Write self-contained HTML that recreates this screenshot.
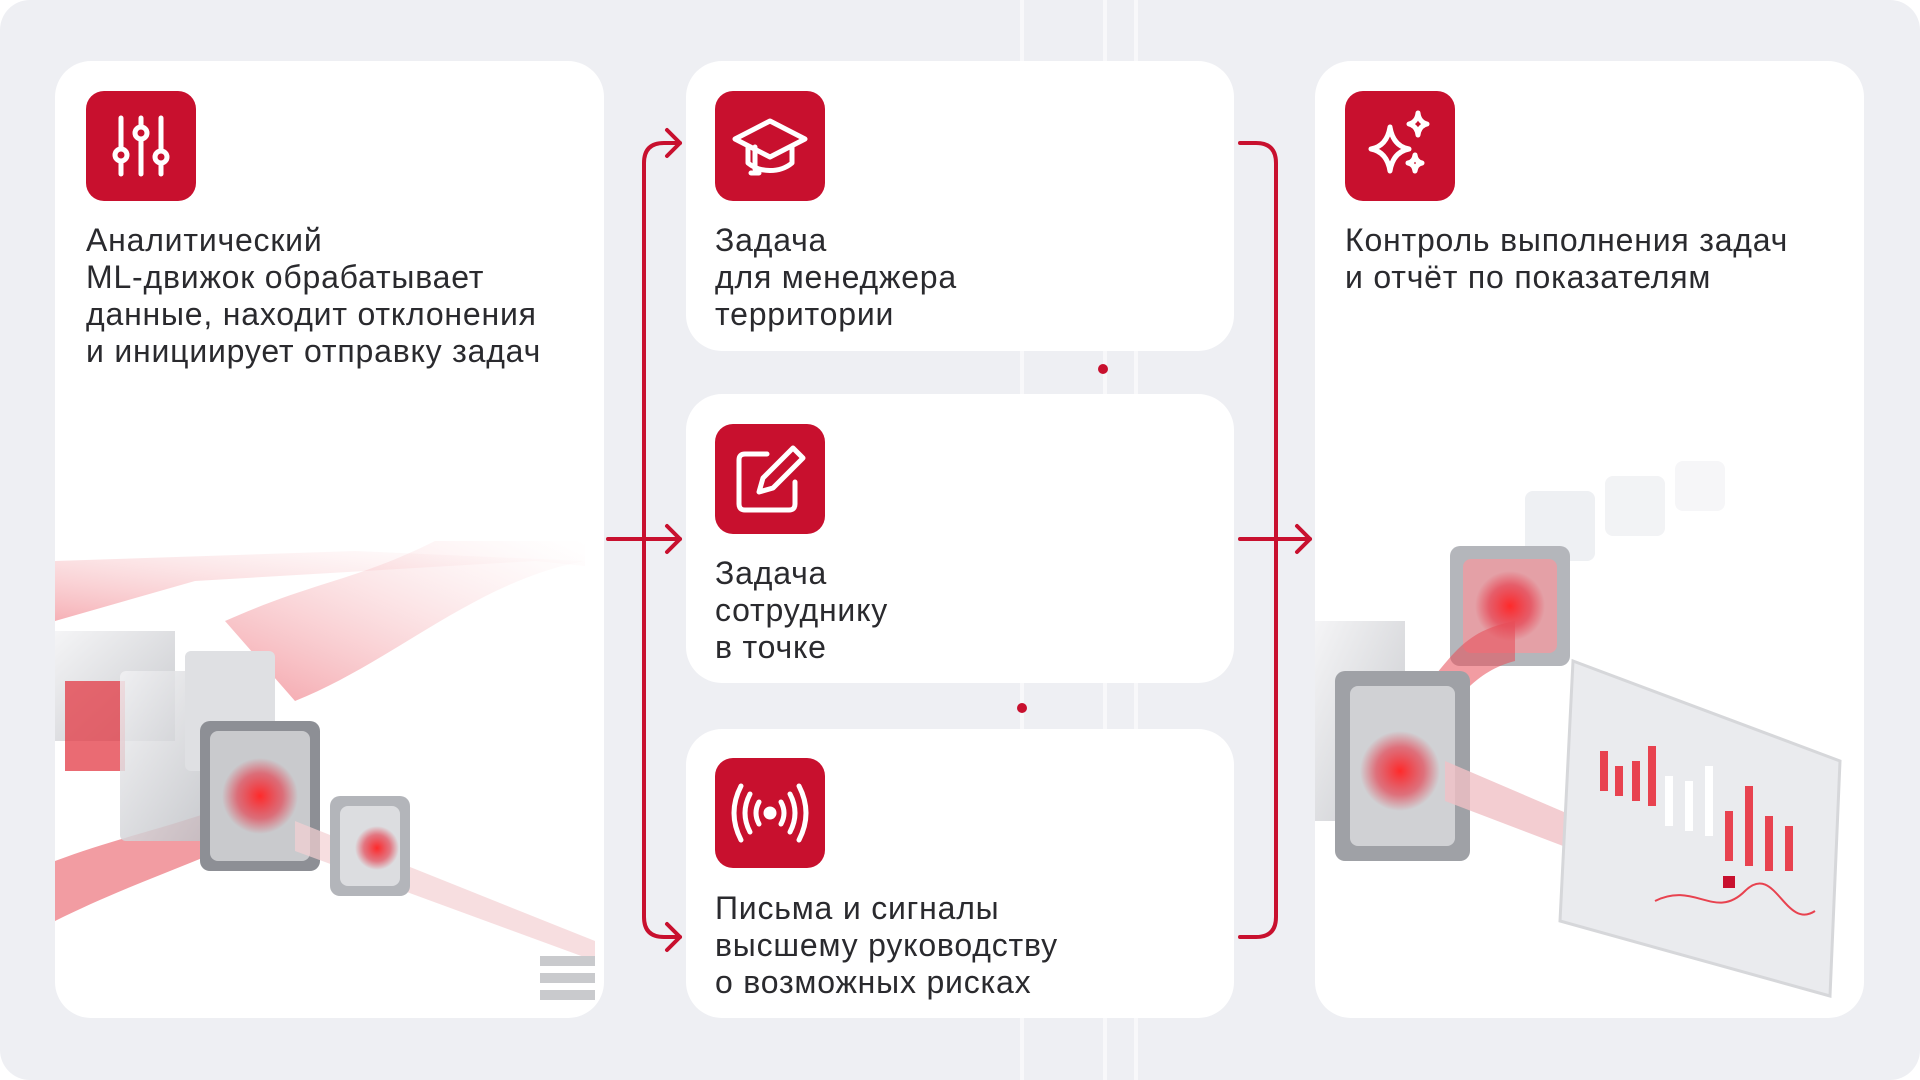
<!DOCTYPE html>
<html><head><meta charset="utf-8">
<style>
html,body{margin:0;padding:0;}
body{width:1920px;height:1080px;position:relative;overflow:hidden;background:#fff;font-family:"Liberation Sans","DejaVu Sans",sans-serif;}
.bg{position:absolute;left:0;top:0;width:1920px;height:1080px;background:#eeeff3;border-radius:30px;}
.vl{position:absolute;top:0;height:1080px;width:4px;background:#f8f8fa;}
.card{position:absolute;background:#fff;border-radius:36px;overflow:hidden;}
.icon{position:absolute;width:110px;height:110px;background:#c8102e;border-radius:18px;}
.icon svg{position:absolute;left:0;top:0;}
.txt{position:absolute;font-size:32px;line-height:37px;color:#2a2a2e;letter-spacing:0.8px;}
.dot{position:absolute;width:10px;height:10px;border-radius:50%;background:#c8102e;}
</style></head><body>
<div class="bg"></div>
<div class="vl" style="left:1020px"></div>
<div class="vl" style="left:1103px"></div>
<div class="vl" style="left:1134px"></div>

<!-- left card -->
<div class="card" style="left:55px;top:61px;width:549px;height:957px;">
<svg width="549" height="957" style="position:absolute;left:0;top:0">
<defs>
<linearGradient id="rs" x1="0" y1="1" x2="1" y2="0"><stop offset="0" stop-color="#e83a48" stop-opacity=".8"/><stop offset="1" stop-color="#f6c0c4" stop-opacity="0"/></linearGradient>
<radialGradient id="glow"><stop offset="0" stop-color="#ff2a2a"/><stop offset=".6" stop-color="#e83040" stop-opacity=".6"/><stop offset="1" stop-color="#e83040" stop-opacity="0"/></radialGradient>
<linearGradient id="gl" x1="0" y1="0" x2="1" y2="1"><stop offset="0" stop-color="#f2f2f4"/><stop offset="1" stop-color="#b9bbc0"/></linearGradient>
</defs>
<path d="M0 500 L0 560 L140 520 L480 500 L530 505 L530 500 L300 490 Z" fill="url(#rs)" opacity=".5"/>
<path d="M170 560 C260 520 300 520 380 480 L530 480 L530 500 C420 520 340 600 240 640 Z" fill="url(#rs)" opacity=".6"/>
<path d="M0 800 C80 770 150 760 230 720 L230 760 C150 800 80 820 0 860 Z" fill="#e84a55" opacity=".55"/>
<rect x="0" y="570" width="120" height="110" fill="url(#gl)" opacity=".8"/>
<rect x="10" y="620" width="60" height="90" fill="#e33a44" opacity=".75"/>
<rect x="65" y="610" width="110" height="170" rx="6" fill="url(#gl)" opacity=".85"/>
<rect x="130" y="590" width="90" height="120" rx="6" fill="#dfe0e3"/>
<rect x="145" y="660" width="120" height="150" rx="10" fill="#8d8f95"/>
<rect x="155" y="670" width="100" height="130" rx="8" fill="#c9cacd"/>
<circle cx="205" cy="735" r="38" fill="url(#glow)"/>
<path d="M240 760 L540 880 L540 900 L240 790 Z" fill="#f3d0d3" opacity=".7"/>
<rect x="275" y="735" width="80" height="100" rx="10" fill="#b3b5ba"/>
<rect x="285" y="745" width="60" height="80" rx="8" fill="#dcdde0"/>
<circle cx="322" cy="787" r="22" fill="url(#glow)"/>
<rect x="485" y="895" width="55" height="10" fill="#c9cacd"/>
<rect x="485" y="912" width="55" height="10" fill="#c9cacd"/>
<rect x="485" y="929" width="55" height="10" fill="#c9cacd"/>
</svg>
</div>
<div class="icon" style="left:86px;top:91px;">
<svg width="110" height="110" viewBox="0 0 110 110" fill="none" stroke="#fff" stroke-width="5" stroke-linecap="round">
<line x1="35" y1="27" x2="35" y2="83"/><line x1="55" y1="27" x2="55" y2="83"/><line x1="75" y1="27" x2="75" y2="83"/>
<circle cx="35" cy="64" r="6" fill="#c8102e"/><circle cx="55" cy="42" r="6" fill="#c8102e"/><circle cx="75" cy="66" r="6" fill="#c8102e"/>
</svg></div>
<div class="txt" style="left:86px;top:222px;">Аналитический<br>ML-движок обрабатывает<br>данные, находит отклонения<br>и инициирует отправку задач</div>

<!-- middle cards -->
<div class="card" style="left:686px;top:61px;width:548px;height:290px;"></div>
<div class="card" style="left:686px;top:394px;width:548px;height:289px;"></div>
<div class="card" style="left:686px;top:729px;width:548px;height:289px;"></div>

<div class="icon" style="left:715px;top:91px;">
<svg width="110" height="110" viewBox="0 0 110 110" fill="none" stroke="#fff" stroke-width="5" stroke-linejoin="round" stroke-linecap="round">
<path d="M20 48 L55 30 L90 48 L55 66 Z"/><path d="M33 56 L33 72 C45 82 65 82 77 72 L77 56"/><path d="M40 56 L40 78 M36 82 L44 82"/>
</svg></div>
<div class="txt" style="left:715px;top:222px;">Задача<br>для менеджера<br>территории</div>

<div class="icon" style="left:715px;top:424px;">
<svg width="110" height="110" viewBox="0 0 110 110" fill="none" stroke="#fff" stroke-width="5" stroke-linejoin="round" stroke-linecap="round">
<path d="M52 30 L30 30 Q24 30 24 36 L24 80 Q24 86 30 86 L74 86 Q80 86 80 80 L80 58"/>
<path d="M78 24 L88 34 L58 64 L44 68 L48 54 Z"/>
</svg></div>
<div class="txt" style="left:715px;top:555px;">Задача<br>сотруднику<br>в точке</div>

<div class="icon" style="left:715px;top:758px;">
<svg width="110" height="110" viewBox="0 0 110 110" fill="none" stroke="#fff" stroke-width="5" stroke-linecap="round">
<circle cx="55" cy="55" r="4" fill="#fff"/>
<path d="M44 44 Q38 55 44 66 M66 44 Q72 55 66 66"/>
<path d="M35 36 Q25 55 35 74 M75 36 Q85 55 75 74"/>
<path d="M26 28 Q12 55 26 82 M84 28 Q98 55 84 82"/>
</svg></div>
<div class="txt" style="left:715px;top:890px;">Письма и сигналы<br>высшему руководству<br>о возможных рисках</div>

<div class="dot" style="left:1098px;top:364px;"></div>
<div class="dot" style="left:1017px;top:703px;"></div>

<!-- right card -->
<div class="card" style="left:1315px;top:61px;width:549px;height:957px;">
<svg width="549" height="957" style="position:absolute;left:0;top:0">
<defs>
<radialGradient id="glow2"><stop offset="0" stop-color="#ff2a2a"/><stop offset=".6" stop-color="#e83040" stop-opacity=".6"/><stop offset="1" stop-color="#e83040" stop-opacity="0"/></radialGradient>
<linearGradient id="gl2" x1="0" y1="0" x2="1" y2="1"><stop offset="0" stop-color="#f2f2f4"/><stop offset="1" stop-color="#b9bbc0"/></linearGradient>
</defs>
<rect x="210" y="430" width="70" height="70" rx="8" fill="#eef0f3"/>
<rect x="290" y="415" width="60" height="60" rx="8" fill="#f2f3f5"/>
<rect x="360" y="400" width="50" height="50" rx="8" fill="#f6f6f8"/>
<rect x="135" y="485" width="120" height="120" rx="10" fill="#b4b6bb"/>
<rect x="148" y="498" width="94" height="94" rx="8" fill="#e4a0a6"/>
<circle cx="195" cy="545" r="35" fill="url(#glow2)"/>
<path d="M100 640 C140 590 150 570 200 560 L200 600 C160 610 140 640 120 670 Z" fill="#e84a55" opacity=".55"/>
<rect x="0" y="560" width="90" height="200" fill="url(#gl2)" opacity=".8"/>
<rect x="20" y="610" width="135" height="190" rx="10" fill="#9fa1a6"/>
<rect x="35" y="625" width="105" height="160" rx="8" fill="#d0d1d4"/>
<circle cx="85" cy="710" r="40" fill="url(#glow2)"/>
<path d="M130 700 L340 790 L340 820 L130 740 Z" fill="#f0c0c5" opacity=".8"/>
<path d="M258 600 L525 700 L515 935 L245 860 Z" fill="#eaebee"/>
<path d="M258 600 L525 700 L515 935 L245 860 Z" fill="none" stroke="#d6d7da" stroke-width="3"/>
<g fill="#e8424f">
<rect x="285" y="690" width="8" height="40"/><rect x="300" y="705" width="8" height="30"/><rect x="317" y="700" width="8" height="40"/><rect x="333" y="685" width="8" height="60"/>
<rect x="410" y="750" width="8" height="50"/><rect x="430" y="725" width="8" height="80"/><rect x="450" y="755" width="8" height="55"/><rect x="470" y="765" width="8" height="45"/>
</g>
<g fill="#fff"><rect x="350" y="715" width="8" height="50"/><rect x="370" y="720" width="8" height="50"/><rect x="390" y="705" width="8" height="70"/></g>
<path d="M340 840 C380 820 400 860 430 830 S470 870 500 850" stroke="#e8424f" stroke-width="2" fill="none"/>
<rect x="408" y="815" width="12" height="12" fill="#c8102e"/>
</svg>
</div>
<div class="icon" style="left:1345px;top:91px;">
<svg width="110" height="110" viewBox="0 0 110 110" fill="none" stroke="#fff" stroke-width="5" stroke-linejoin="round">
<path d="M45 36 Q48 55 64 58 Q48 61 45 80 Q42 61 26 58 Q42 55 45 36 Z"/>
<path d="M73 22 Q74 31 82 33 Q74 35 73 44 Q72 35 64 33 Q72 31 73 22 Z"/>
<path d="M70 64 Q71 71 77 72 Q71 73 70 80 Q69 73 63 72 Q69 71 70 64 Z"/>
</svg></div>
<div class="txt" style="left:1345px;top:222px;">Контроль выполнения задач<br>и отчёт по показателям</div>

<!-- connectors -->
<svg width="1920" height="1080" style="position:absolute;left:0;top:0" fill="none" stroke="#c8102e" stroke-width="4" stroke-linecap="round" stroke-linejoin="round">
<path d="M680 143 L664 143 Q644 143 644 163 L644 917 Q644 937 664 937 L680 937"/>
<path d="M608 539 L680 539"/>
<path d="M667 130 L680 143 L667 156"/>
<path d="M667 526 L680 539 L667 552"/>
<path d="M667 924 L680 937 L667 950"/>
<path d="M1240 143 L1256 143 Q1276 143 1276 163 L1276 917 Q1276 937 1256 937 L1240 937"/>
<path d="M1240 539 L1310 539"/>
<path d="M1297 526 L1310 539 L1297 552"/>
</svg>
</body></html>
